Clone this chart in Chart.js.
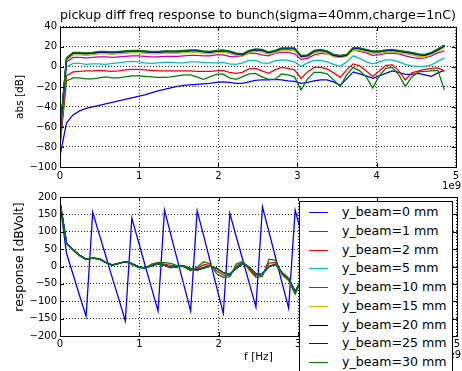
<!DOCTYPE html>
<html><head><meta charset="utf-8">
<script src="https://cdn.jsdelivr.net/npm/chart.js@4/dist/chart.umd.min.js"></script>
<style>
html,body{margin:0;padding:0;background:#fff;width:462px;height:371px;overflow:hidden;}
canvas{position:absolute;left:0;}
#top{top:0;}
#bot{top:185px;}
#legend{position:absolute;left:299px;top:201px;width:154px;height:200px;box-sizing:border-box;border:1px solid #000;background:#fff;font-family:"DejaVu Sans",sans-serif;font-size:12.6px;color:#000;}
.row{position:absolute;left:0;height:18px;width:150px;}
.sw{position:absolute;left:9px;top:9px;width:19px;height:1px;}
.tx{position:absolute;left:42px;top:0;line-height:18px;white-space:nowrap;}
</style>
</head><body>
<canvas id="top" width="462" height="195"></canvas>
<canvas id="bot" width="462" height="186"></canvas>
<div id="legend"></div>
<script>
// ---- data (frequency in units of 1e9 Hz) ----
const freqGHz = [0,0.082,0.165,0.247,0.329,0.412,0.494,0.576,0.658,0.741,
 0.823,0.905,0.988,1.070,1.152,1.235,1.317,1.399,1.481,1.564,
 1.646,1.728,1.811,1.893,1.975,2.058,2.140,2.222,2.304,2.387,
 2.469,2.551,2.634,2.716,2.798,2.881,2.963,3.045,3.127,3.210,
 3.292,3.374,3.457,3.539,3.621,3.704,3.786,3.868,3.950,4.033,
 4.115,4.197,4.280,4.362,4.444,4.527,4.609,4.691,4.773,4.856];

const seriesNames = ['y_beam=0 mm','y_beam=1 mm','y_beam=2 mm','y_beam=5 mm','y_beam=10 mm','y_beam=15 mm','y_beam=20 mm','y_beam=25 mm','y_beam=30 mm'];
const seriesColors = ['#0000ff','#008000','#ff0000','#00bfbf','#bf00bf','#bfbf00','#000000','#0000ff','#008000'];

// top panel: abs [dB]
const abs_y0 = [-89,-56,-48,-44,-41.5,-40,-38.5,-37,-35.5,-34,-32.5,-31,-29.5,-28,-26,-24,-22.5,-21,-19.5,-18.5,-18,-17.5,-17,-16.5,-15.5,-15,-15.5,-16.5,-16.5,-15,-13.5,-13,-13,-12.5,-13,-14,-14.5,-16.5,-15.5,-14,-13,-13,-15,-18.5,-12,-5,-7,-9,-11.5,-9,-6.5,-4,-5.5,-7.5,-7.5,-6.5,-8,-9.5,-6,-3.5];
const abs_y1 = [-80,-14,-11,-11,-12,-12,-11,-10,-11,-11,-10,-9,-9,-9.5,-10,-10.5,-10.5,-10,-9,-8,-8,-10,-12.5,-10,-7.5,-7,-11,-12.5,-10,-7,-6.5,-10,-12.5,-12.5,-7,-8,-10,-23,-12,-5.5,-5.5,-7,-13,-19.5,-8,-0.5,-4,-10,-21,-9,-1.5,-0.5,-8,-19.5,-10,-5,-4.5,-4,-3.5,-23];
const abs_y2 = [-78,-9,-5,-4.5,-4,-4,-3.5,-4,-4.5,-4,-3,-2.5,-2.5,-3,-3.5,-4,-4,-4,-4,-4,-4,-4.5,-4.5,-4.5,-4,-3.5,-5.5,-6.5,-5.5,-2,-1.5,-4,-6.5,-3,-0.5,-1.5,-3,-11.5,-5,-0.5,-0.5,-2,-6,-10.5,-3,3,1,-4,-9.5,-4,1.5,2,-4,-13,-6,-4,-2.5,-1.5,-1,-4];
const abs_y5 = [-74,0,3.5,3.5,2.5,3,3,2.5,3.5,4,5,5.5,5,4,3.5,4,4.5,4.5,4,4,5,5,4.5,4,4,4.5,3,2.5,4,6.5,6.5,4,3.5,6,7,6.5,5,0.5,4,6.5,6.5,5,2.5,0.5,5,11,8.5,5,3,5,7,7,5,2.5,1,0.5,0.5,2,5.5,9];
const abs_y10 = [-72,5,9.5,9.5,9,9.5,10,10,9.5,10,10.5,11,11,10.5,10,10,10.5,10.5,10.5,11,11.5,11.5,11,11,12,12,10.5,10,11,13.5,13.5,12,11,13.5,14.5,14.5,13,7.5,8.5,12,13.5,13,11,9.5,11,17,15.5,14,11.5,12,13.5,13.5,13,11,9.5,8.5,9,11,14,16];
const abs_y15 = [-66,7,12,12,11.5,12,13,13,12.5,13,13.5,14,14,13.5,13,13,13.5,13.5,13.5,14,14.5,14.5,13.5,13,14,14.5,13.5,11.5,10.5,14,15.5,15,12.5,14,16.5,16.5,16,9.5,10,14,15,13.5,10,9.5,10.5,17,16.5,15,13.5,13.5,14.5,15,14,13,12,10.5,10,12,15.5,19.5];
const abs_y20 = [-65.5,8,13.5,13.5,13,13.5,14.5,14.5,14,14.5,15,15.5,15.5,15,14.5,14.5,15,15,15,15.5,16,16,15,14.5,15.5,16,15,13,12,15.5,17,16.5,14,15.5,18,18,18,10.5,11,15.5,16.5,15,11.5,10.5,11.5,18.5,18,16.5,15,15,16,16.5,15.5,14.5,13.5,12,11.5,13.5,17,21];
const abs_y25 = [-65,8.5,14,14,13.5,14,15,15,14.5,15,15.5,16,16,15.5,15,15,15.5,15.5,15.5,16,16.5,16.5,15.5,15,16,16.5,15.5,13.5,12.5,16,17.5,17,14.5,16,18.5,18.5,18.5,11,11.5,16,17,15.5,12,11,12,19,18.5,17,15.5,15.5,16.5,17,16,15,14,12.5,12,14,17.5,21.5];
const abs_y30 = [-64.5,9,14.5,14.5,14,14.5,15.5,15.5,15,15.5,16,16.5,16.5,16,15.5,15.5,16,16,16,16.5,17,17,16,15.5,16.5,17,16,14,13,16.5,18,17.5,15,16.5,19,19,19,11.5,12,16.5,17.5,16,12.5,11.5,12.5,19.5,19,17.5,16,16,17,17.5,16.5,15.5,14.5,13,12.5,14.5,18,22];

// bottom panel: response [dBVolt] (only the part not covered by the legend)
const resp_y0 = [180,38,-23,-84,-144,156,93,31,-32,-94,-157,139,72,5,-61,-128,162,89,17,-56,-128,160,88,14,-61,-135,153,85,18,-50,-117,172,99,26,-47,-120,162,92];
const resp_y1 = [185,67,48,32,21,24,22,12,5,10,14,7,-3,-5,7,12,11,9,2,-1,-12,-2,14,7,-21,-31,-30,7,15,-10,-31,-28,21,18,-23,-40,-80,-38];
const resp_y2 = [185,67,48,32,21,24,22,12,4,10,14,7,-2,-4,5,10,7,3,1,0,-9,-6,5,4,-13,-25,-26,1,12,-6,-27,-24,10,12,-20,-38,-76,-38];
const resp_y5 = [185,67,48,32,21,24,22,12,4,9,14,8,-1,-4,3,9,4,-2,0,1,-7,-9,-2,2,-7,-19,-23,-3,10,-3,-23,-21,2,7,-18,-36,-73,-38];
const resp_y10 = [185,67,48,32,21,24,22,12,4,9,14,8,-1,-4,2,8,3,-3,0,1,-6,-10,-4,1,-5,-18,-22,-5,9,-2,-22,-20,0,6,-18,-35,-72,-38];
const resp_y15 = [185,67,48,32,21,24,22,12,4,9,14,8,-1,-4,2,8,3,-3,0,1,-6,-10,-4,1,-5,-18,-22,-5,9,-2,-22,-20,0,6,-18,-35,-72,-38];
const resp_y20 = [185,67,48,32,21,24,22,12,4,9,14,8,-1,-4,2,8,3,-3,0,1,-6,-10,-4,1,-5,-18,-22,-5,9,-2,-22,-20,0,6,-18,-35,-72,-38];
const resp_y25 = [185,67,48,32,21,24,22,12,4,9,14,8,-1,-4,2,8,3,-3,0,1,-6,-10,-4,1,-5,-18,-22,-5,9,-2,-22,-20,0,6,-18,-35,-72,-38];
const resp_y30 = [185,67,48,32,21,24,22,12,4,9,14,8,-1,-4,2,8,3,-3,0,1,-6,-11,-5,1,-5,-18,-22,-5,9,-2,-22,-20,0,6,-18,-35,-72,-38];

const xTicks = [0,1,2,3,4,5];
const topYTicks = [-100,-80,-60,-40,-20,0,20,40];
const botYTicks = [-200,-150,-100,-50,0,50,100,150,200];
const xOffsetText = '1e9';
const titleText = 'pickup diff freq response to bunch(sigma=40mm,charge=1nC)';
const topYLabel = 'abs [dB]';
const botYLabel = 'response [dBVolt]';
const botXLabel = 'f [Hz]';

// ---- drawing ----
Chart.defaults.font.family = '"DejaVu Sans", sans-serif';
Chart.defaults.color = '#000';

const fmt = v => (v < 0 ? '\u2212' + Math.abs(v) : String(v));

function makeSets(list) {
  return list.map((vals, i) => ({
    label: seriesNames[i],
    data: vals.map((v, k) => ({x: freqGHz[k], y: v})),
    borderColor: seriesColors[i],
    backgroundColor: seriesColors[i],
    borderWidth: 1.3,
    pointRadius: 0,
    tension: 0,
    fill: false,
    order: -i
  }));
}

const framePlugin = {
  id: 'frame',
  afterDatasetsDraw(chart) {
    const {ctx, chartArea: a, scales: {x, y}} = chart;
    ctx.save();
    ctx.strokeStyle = '#000';
    ctx.lineWidth = 1;
    ctx.beginPath();
    x.ticks.forEach(t => {
      const px = Math.round(x.getPixelForValue(t.value)) + 0.5;
      ctx.moveTo(px, a.bottom); ctx.lineTo(px, a.bottom - 4);
      ctx.moveTo(px, a.top); ctx.lineTo(px, a.top + 4);
    });
    y.ticks.forEach(t => {
      const py = Math.round(y.getPixelForValue(t.value)) + 0.5;
      ctx.moveTo(a.left, py); ctx.lineTo(a.left + 4, py);
      ctx.moveTo(a.right, py); ctx.lineTo(a.right - 4, py);
    });
    ctx.stroke();
    ctx.strokeRect(Math.round(a.left) + 0.5, Math.round(a.top) + 0.5,
                   Math.round(a.right - a.left), Math.round(a.bottom - a.top));
    ctx.restore();
  },
  afterDraw(chart, args, opts) {
    const ctx = chart.ctx;
    ctx.save();
    ctx.fillStyle = '#000';
    ctx.font = '10px "DejaVu Sans"';
    ctx.textAlign = 'right';
    ctx.textBaseline = 'middle';
    ctx.fillText(xOffsetText, 461, opts.offsetY);
    if (opts.yLabel) {
      // y-axis label drawn where the reference places it
      ctx.font = opts.yLabelSize + 'px "DejaVu Sans"';
      ctx.textAlign = 'center';
      ctx.translate(opts.yLabelX, opts.yLabelY);
      ctx.rotate(-Math.PI / 2);
      ctx.fillText(opts.yLabel, 0, 0);
    }
    ctx.restore();
  }
};

function scales(yTicks, yMin, yMax, yLabel, xHeight, xPad, xTitle) {
  const grid = {color: 'rgba(0,0,0,0.85)', lineWidth: 1, drawTicks: false};
  return {
    x: {
      type: 'linear', min: 0, max: 5,
      afterBuildTicks: s => { s.ticks = xTicks.map(v => ({value: v})); },
      afterFit: s => { s.height = xHeight; },
      ticks: {padding: xPad, font: {size: 10}, callback: v => fmt(v), maxRotation: 0, autoSkip: false},
      grid: grid,
      border: {display: false, dash: [1, 2]},
      title: xTitle ? {display: true, text: xTitle, font: {size: 10.5}, padding: {top: 0, bottom: 7.4}} : {display: false}
    },
    y: {
      type: 'linear', min: yMin, max: yMax,
      afterBuildTicks: s => { s.ticks = yTicks.map(v => ({value: v})); },
      afterFit: s => { s.width = 60; },
      ticks: {padding: 3, font: {size: 10}, callback: v => fmt(v), autoSkip: false},
      grid: grid,
      border: {display: false, dash: [1, 2]},
      title: yLabel ? {display: true, text: yLabel, font: {size: 10.5}, padding: {top: 13.7, bottom: 0}} : {display: false}
    }
  };
}

new Chart(document.getElementById('top'), {
  type: 'line',
  data: {datasets: makeSets([abs_y0, abs_y1, abs_y2, abs_y5, abs_y10, abs_y15, abs_y20, abs_y25, abs_y30])},
  options: {
    responsive: false, animation: false, devicePixelRatio: 1,
    layout: {padding: {top: 0, left: 0, right: 3, bottom: 0}},
    plugins: {
      legend: {display: false}, tooltip: {enabled: false},
      title: {display: true, text: titleText, fullSize: false, font: {size: 12.7, weight: 'normal'}, padding: {top: 7.8, bottom: 3.8}},
      frame: {offsetY: 186}
    },
    scales: scales(topYTicks, -100, 40, topYLabel, 28, 3, null)
  },
  plugins: [framePlugin]
});

new Chart(document.getElementById('bot'), {
  type: 'line',
  data: {datasets: makeSets([resp_y0, resp_y1, resp_y2, resp_y5, resp_y10, resp_y15, resp_y20, resp_y25, resp_y30])},
  options: {
    responsive: false, animation: false, devicePixelRatio: 1,
    layout: {padding: {top: 12, left: 0, right: 3, bottom: 0}},
    plugins: {
      legend: {display: false}, tooltip: {enabled: false},
      frame: {offsetY: 170, yLabel: botYLabel, yLabelSize: 12.4, yLabelX: 20, yLabelY: 72}
    },
    scales: scales(botYTicks, -200, 200, null, 35, 2, botXLabel)
  },
  plugins: [framePlugin]
});

// legend box
const leg = document.getElementById('legend');
seriesNames.forEach((name, i) => {
  const row = document.createElement('div');
  row.className = 'row';
  row.style.top = Math.round(10 + i * 18.75 - 9) + 'px';
  const sw = document.createElement('div');
  sw.className = 'sw';
  sw.style.background = seriesColors[i];
  const tx = document.createElement('div');
  tx.className = 'tx';
  tx.textContent = name;
  row.appendChild(sw); row.appendChild(tx);
  leg.appendChild(row);
});
</script>
</body></html>
